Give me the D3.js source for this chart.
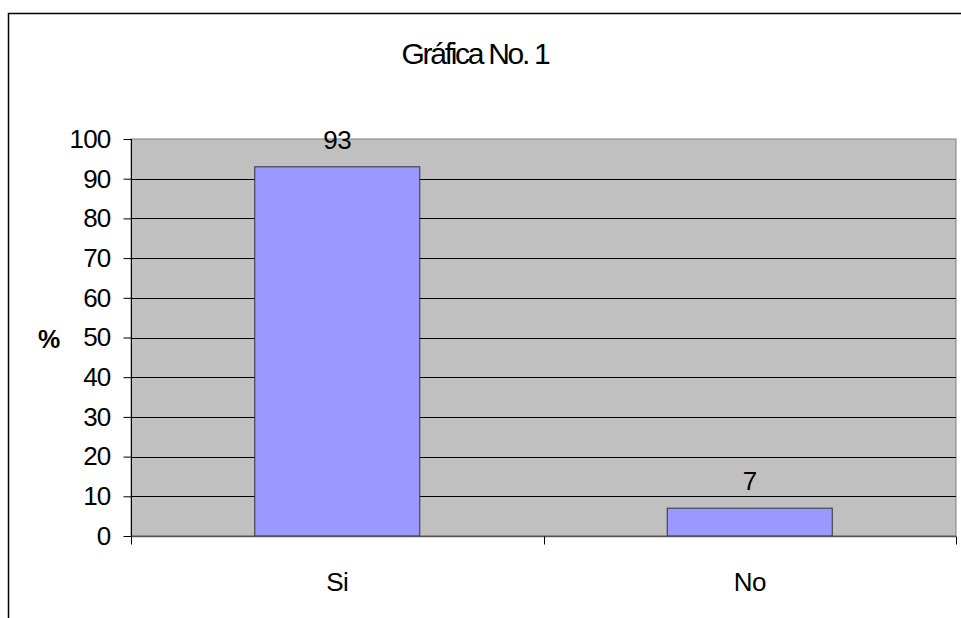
<!DOCTYPE html>
<html>
<head>
<meta charset="utf-8">
<script src="https://cdn.jsdelivr.net/npm/d3@7"></script>
<style>
  body { margin: 0; background: #fff; }
  svg { display: block; font-family: "Liberation Sans", Arial, sans-serif; }
</style>
</head>
<body>
<svg id="chart"></svg>
<script>
const categories = ["Si", "No"];
const values = [93, 7];
const yTicks = [0, 10, 20, 30, 40, 50, 60, 70, 80, 90, 100];

const w = 961;
const h = 618;
const plotLeft = 131, plotRight = 956, plotTop = 139, plotBottom = 536;

const svg = d3.select("#chart").attr("width", w).attr("height", h);

// outer frame (cut off at right and bottom)
svg.append("path")
  .attr("d", `M8.5,${h + 5} L8.5,13.5 L${w + 5},13.5`)
  .attr("fill", "none")
  .attr("stroke", "#000")
  .attr("stroke-width", 1.5);

svg.append("text")
  .attr("x", 475)
  .attr("y", 64)
  .attr("text-anchor", "middle")
  .attr("font-size", 30)
  .attr("letter-spacing", "-2.3px")
  .text("Gráfica No. 1");

const x = d3.scaleBand()
  .domain(categories)
  .range([plotLeft, plotRight])
  .paddingInner(0.6)
  .paddingOuter(0.3);

const xCat = d3.scaleBand().domain(categories).range([plotLeft, plotRight]);

const y = d3.scaleLinear().domain([0, 100]).range([plotBottom, plotTop]);

// plot area
svg.append("rect")
  .attr("x", plotLeft)
  .attr("y", plotTop)
  .attr("width", plotRight - plotLeft)
  .attr("height", plotBottom - plotTop)
  .attr("fill", "#c0c0c0")
  .attr("stroke", "#808080")
  .attr("stroke-width", 1);

// gridlines
svg.append("g")
  .selectAll("line")
  .data(yTicks.filter((d) => d > 0 && d < 100))
  .enter()
  .append("line")
  .attr("x1", plotLeft)
  .attr("x2", plotRight)
  .attr("y1", (d) => Math.round(y(d)) + 0.5)
  .attr("y2", (d) => Math.round(y(d)) + 0.5)
  .attr("stroke", "#000");

// bars
svg.selectAll(".bar")
  .data(values)
  .enter()
  .append("rect")
  .attr("class", "bar")
  .attr("x", (d, i) => x(categories[i]))
  .attr("y", (d) => y(d))
  .attr("width", x.bandwidth())
  .attr("height", (d) => plotBottom - y(d))
  .attr("fill", "#9999ff")
  .attr("stroke", "#333")
  .attr("stroke-width", 1);

svg.selectAll(".val")
  .data(values)
  .enter()
  .append("text")
  .attr("class", "val")
  .attr("x", (d, i) => x(categories[i]) + x.bandwidth() / 2)
  .attr("y", (d) => y(d) - 18)
  .attr("text-anchor", "middle")
  .attr("font-size", 26)
  .attr("letter-spacing", "-0.5px")
  .text((d) => d);

// y axis
const yAxis = d3.axisLeft(y).tickValues(yTicks).tickSize(8).tickPadding(13);
const gy = svg.append("g")
  .attr("transform", `translate(${plotLeft + 0.5},0)`)
  .call(yAxis);
gy.select(".domain").attr("d", `M0,${plotTop}V${plotBottom + 8}`).attr("stroke", "#000");
gy.selectAll(".tick line").attr("stroke", "#000");
gy.selectAll(".tick text")
  .attr("font-size", 26)
  .attr("letter-spacing", "-0.8px")
  .attr("font-family", "Liberation Sans, Arial, sans-serif")
  .attr("fill", "#000");

// x axis
const gx = svg.append("g").attr("transform", `translate(0,${plotBottom + 0.5})`);
gx.append("line")
  .attr("x1", plotLeft)
  .attr("x2", plotRight)
  .attr("stroke", "#555")
  .attr("stroke-width", 1.5);
gx.selectAll(".cat-tick")
  .data([...categories.map((c) => xCat(c)), plotRight])
  .enter()
  .append("line")
  .attr("class", "cat-tick")
  .attr("x1", (d) => Math.round(d) + 0.5)
  .attr("x2", (d) => Math.round(d) + 0.5)
  .attr("y1", 0)
  .attr("y2", 8)
  .attr("stroke", "#000");
gx.selectAll(".cat")
  .data(categories)
  .enter()
  .append("text")
  .attr("class", "cat")
  .attr("x", (d) => xCat(d) + xCat.bandwidth() / 2)
  .attr("y", 54)
  .attr("text-anchor", "middle")
  .attr("font-size", 26)
  .attr("letter-spacing", "-0.5px")
  .text((d) => d);

svg.append("text")
  .attr("x", 49)
  .attr("y", 348)
  .attr("text-anchor", "middle")
  .attr("font-size", 25)
  .attr("font-weight", "bold")
  .text("%");
</script>
</body>
</html>
